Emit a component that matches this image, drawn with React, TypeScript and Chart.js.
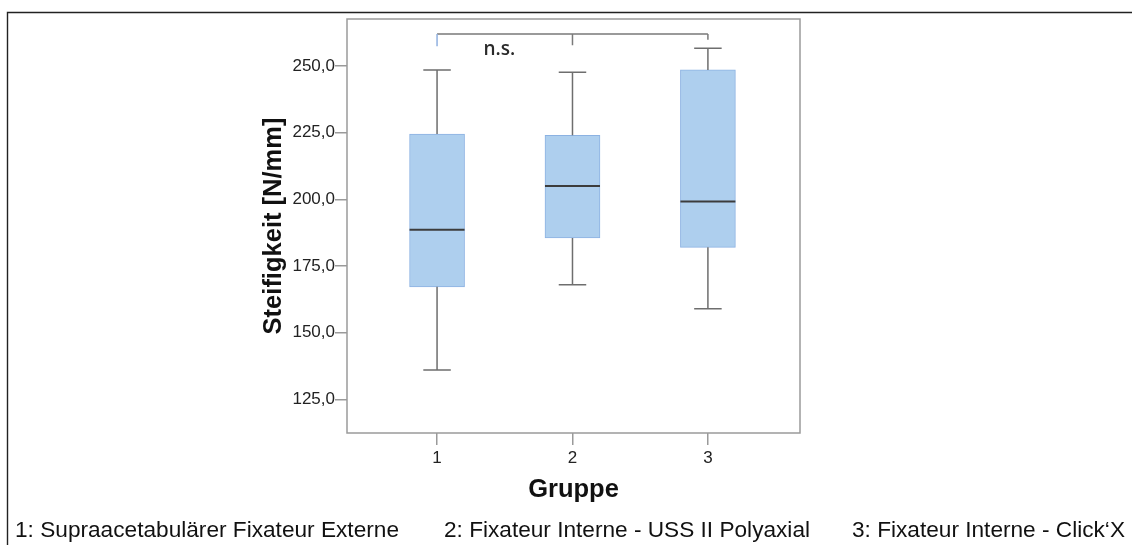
import React, { useEffect, useRef } from 'react';
import { Chart, registerables } from 'chart.js';

Chart.register(...registerables);

// ---- data ----
const groups = [1, 2, 3];
const groupLabels = ['1', '2', '3'];
const whiskerMin = [136.0, 168.0, 159.0];
const q1 = [167.2, 185.5, 182.0];
const median = [188.6, 205.0, 199.2];
const q3 = [224.5, 224.0, 248.5];
const whiskerMax = [248.5, 247.6, 256.6];
const yTicks = [125, 150, 175, 200, 225, 250];
const yTitle = 'Steifigkeit [N/mm]';
const xTitle = 'Gruppe';
const legendTexts = [
  '1: Supraacetabulärer Fixateur Externe',
  '2: Fixateur Interne - USS II Polyaxial',
  '3: Fixateur Interne - Click‘X',
];
const bracketLevel = 262;
const bracketEnds = [257.4, 257.8, 259.8];
const bracketLabel = 'n.s.';
const bracketLabelPos = { x: 1.46, y: 256.0 };

// ---- styles ----
const BOX_FILL = 'rgb(174, 207, 238)';
const BOX_EDGE = 'rgb(140, 178, 226)';
const WHISKER = '#6e6e6e';
const MEDIAN = '#3c3c3c';
const AXIS = '#9a9a9a';
const FONT = '"Liberation Sans", Arial, sans-serif';

const legendLayout = [
  { x: 15, w: 384 },
  { x: 444, w: 366 },
  { x: 852, w: 273 },
];

const decorPlugin = {
  id: 'decor',
  beforeDraw(chart: any) {
    const ctx = chart.ctx;
    ctx.save();
    ctx.fillStyle = '#ffffff';
    ctx.fillRect(0, 0, chart.width, chart.height);
    ctx.strokeStyle = '#222222';
    ctx.lineWidth = 1.4;
    ctx.beginPath();
    ctx.moveTo(7.5, chart.height);
    ctx.lineTo(7.5, 12.5);
    ctx.lineTo(chart.width, 12.5);
    ctx.stroke();
    ctx.restore();
  },
  afterDatasetsDraw(chart: any) {
    const ctx = chart.ctx;
    const xs = chart.scales.x;
    const ys = chart.scales.y;
    const meta = chart.getDatasetMeta(0);
    ctx.save();
    groups.forEach((g, i) => {
      const x = xs.getPixelForValue(g);
      const bar = meta.data[i];
      const half = bar ? bar.width / 2 : 27;
      const cap = half / 2;
      ctx.strokeStyle = WHISKER;
      ctx.lineWidth = 1.5;
      ctx.beginPath();
      ctx.moveTo(x, ys.getPixelForValue(q3[i]));
      ctx.lineTo(x, ys.getPixelForValue(whiskerMax[i]));
      ctx.moveTo(x - cap, ys.getPixelForValue(whiskerMax[i]));
      ctx.lineTo(x + cap, ys.getPixelForValue(whiskerMax[i]));
      ctx.moveTo(x, ys.getPixelForValue(q1[i]));
      ctx.lineTo(x, ys.getPixelForValue(whiskerMin[i]));
      ctx.moveTo(x - cap, ys.getPixelForValue(whiskerMin[i]));
      ctx.lineTo(x + cap, ys.getPixelForValue(whiskerMin[i]));
      ctx.stroke();
      ctx.strokeStyle = MEDIAN;
      ctx.lineWidth = 2;
      ctx.beginPath();
      ctx.moveTo(x - half, ys.getPixelForValue(median[i]));
      ctx.lineTo(x + half, ys.getPixelForValue(median[i]));
      ctx.stroke();
    });
    const yb = ys.getPixelForValue(bracketLevel);
    ctx.lineWidth = 1.5;
    ctx.strokeStyle = '#7a7a7a';
    ctx.beginPath();
    ctx.moveTo(xs.getPixelForValue(groups[0]), yb);
    ctx.lineTo(xs.getPixelForValue(groups[2]), yb);
    ctx.moveTo(xs.getPixelForValue(groups[1]), yb);
    ctx.lineTo(xs.getPixelForValue(groups[1]), ys.getPixelForValue(bracketEnds[1]));
    ctx.moveTo(xs.getPixelForValue(groups[2]), yb);
    ctx.lineTo(xs.getPixelForValue(groups[2]), ys.getPixelForValue(bracketEnds[2]));
    ctx.stroke();
    ctx.strokeStyle = '#8fb0e0';
    ctx.beginPath();
    ctx.moveTo(xs.getPixelForValue(groups[0]), yb);
    ctx.lineTo(xs.getPixelForValue(groups[0]), ys.getPixelForValue(bracketEnds[0]));
    ctx.stroke();
    ctx.fillStyle = '#2a2a2a';
    ctx.font = '600 19px "Open Sans", sans-serif';
    ctx.textAlign = 'center';
    ctx.textBaseline = 'middle';
    ctx.fillText(bracketLabel, xs.getPixelForValue(bracketLabelPos.x), ys.getPixelForValue(bracketLabelPos.y));
    ctx.restore();
  },
  afterDraw(chart: any) {
    const ctx = chart.ctx;
    const a = chart.chartArea;
    ctx.save();
    ctx.strokeStyle = AXIS;
    ctx.lineWidth = 1.5;
    ctx.strokeRect(a.left, a.top, a.right - a.left, a.bottom - a.top);
    ctx.fillStyle = '#111111';
    ctx.font = '22px ' + FONT;
    ctx.textAlign = 'left';
    ctx.textBaseline = 'alphabetic';
    legendTexts.forEach((t, i) => {
      const m = ctx.measureText(t).width;
      const L = legendLayout[i];
      ctx.save();
      ctx.translate(L.x, 537);
      ctx.scale(L.w / m, 1);
      ctx.fillText(t, 0, 0);
      ctx.restore();
    });
    ctx.restore();
  },
};

export default function App() {
  const ref = useRef<HTMLCanvasElement | null>(null);
  useEffect(() => {
    if (!ref.current) return;
    const chart = new Chart(ref.current, {
      type: 'bar',
      data: {
        datasets: [
          {
            data: groups.map((g, i) => ({ x: g, y: [q1[i], q3[i]] })) as any,
            backgroundColor: BOX_FILL,
            borderColor: BOX_EDGE,
            borderWidth: 1,
            borderSkipped: false,
            barThickness: 55,
          },
        ],
      },
      options: {
        animation: false,
        responsive: false,
        devicePixelRatio: 1,
        layout: { padding: { left: 259, right: 332, top: 19, bottom: 40 } },
        plugins: { legend: { display: false }, tooltip: { enabled: false } },
        scales: {
          x: {
            type: 'linear',
            min: 0.335,
            max: 3.68,
            offset: false,
            afterBuildTicks: (s: any) => {
              s.ticks = groups.map((v) => ({ value: v }));
            },
            afterFit: (s: any) => {
              s.height = 72;
            },
            ticks: {
              padding: 3,
              color: '#222',
              font: { family: FONT, size: 17 },
              callback: (v: any) => groupLabels[groups.indexOf(Number(v))] ?? '',
            },
            grid: { offset: false, drawOnChartArea: false, tickLength: 12, color: AXIS, lineWidth: 1.5 },
            border: { display: false },
            title: {
              display: true,
              text: xTitle,
              color: '#111',
              padding: 0,
              font: { family: FONT, size: 25.5, weight: 'bold' },
            },
          },
          y: {
            min: 112.4,
            max: 267.6,
            afterBuildTicks: (s: any) => {
              s.ticks = yTicks.map((v) => ({ value: v }));
            },
            afterFit: (s: any) => {
              s.width = 88;
            },
            ticks: {
              padding: 0,
              color: '#222',
              font: { family: FONT, size: 17 },
              callback: (v: any) => Number(v).toFixed(1).replace('.', ','),
            },
            grid: { drawOnChartArea: false, tickLength: 12, color: AXIS, lineWidth: 1.5 },
            border: { display: false },
            title: {
              display: true,
              text: yTitle,
              color: '#111',
              padding: 0,
              font: { family: FONT, size: 25.5, weight: 'bold' },
            },
          },
        },
      },
      plugins: [decorPlugin],
    });
    return () => chart.destroy();
  }, []);
  return (
    <div style={{ position: 'fixed', left: 0, top: 0, width: 1132, height: 545 }}>
      <canvas ref={ref} width={1132} height={545} style={{ display: 'block', width: 1132, height: 545 }} />
    </div>
  );
}
